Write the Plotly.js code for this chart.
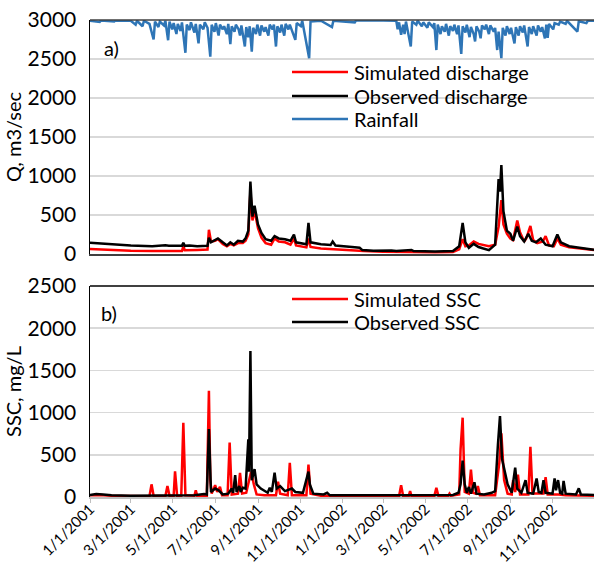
<!DOCTYPE html>
<html>
<head>
<meta charset="utf-8">
<script src="https://cdn.plot.ly/plotly-3.0.1.min.js"></script>
<style>html,body{margin:0;padding:0;background:#fff;}#chart{width:595px;height:571px;}</style>
</head>
<body>
<div id="chart"></div>
<script>
// ---- Discharge (m3/sec) ----
const simQDates = ['2001-01-01','2001-02-01','2001-03-01','2001-04-01','2001-05-10','2001-05-14','2001-05-16','2001-05-18','2001-06-05','2001-06-20','2001-06-22','2001-06-25','2001-07-01','2001-07-05','2001-07-12','2001-07-18','2001-07-23','2001-07-28','2001-08-03','2001-08-10','2001-08-14','2001-08-18','2001-08-21','2001-08-24','2001-08-27','2001-09-01','2001-09-06','2001-09-12','2001-09-20','2001-09-25','2001-10-01','2001-10-10','2001-10-18','2001-10-23','2001-10-26','2001-11-05','2001-11-10','2001-11-13','2001-11-16','2001-12-01','2001-12-18','2002-01-01','2002-02-01','2002-03-01','2002-04-01','2002-05-15','2002-06-10','2002-06-19','2002-06-24','2002-06-28','2002-07-03','2002-07-10','2002-07-17','2002-07-24','2002-08-01','2002-08-10','2002-08-15','2002-08-19','2002-08-22','2002-08-27','2002-09-01','2002-09-05','2002-09-11','2002-09-15','2002-09-21','2002-09-24','2002-09-30','2002-10-04','2002-10-10','2002-10-18','2002-10-22','2002-10-27','2002-11-03','2002-11-08','2002-11-13','2002-11-25','2002-12-10','2002-12-31'];
const simQ = [65,50,42,38,33,38,100,48,52,58,310,160,170,190,130,100,130,110,140,140,170,250,800,430,560,330,210,140,120,200,160,150,120,200,110,90,85,200,90,72,62,52,38,28,24,22,25,60,190,100,110,160,130,120,100,120,350,690,380,260,200,180,430,280,160,200,360,180,140,160,230,110,100,200,120,85,70,50];

const obsQDates = ['2001-01-01','2001-02-01','2001-03-01','2001-04-01','2001-04-10','2001-04-20','2001-04-25','2001-05-10','2001-05-14','2001-05-16','2001-05-18','2001-05-25','2001-06-05','2001-06-20','2001-06-22','2001-06-25','2001-07-01','2001-07-05','2001-07-12','2001-07-18','2001-07-23','2001-07-28','2001-08-03','2001-08-10','2001-08-14','2001-08-18','2001-08-21','2001-08-24','2001-08-27','2001-09-01','2001-09-06','2001-09-12','2001-09-20','2001-09-25','2001-10-01','2001-10-10','2001-10-18','2001-10-23','2001-10-26','2001-11-05','2001-11-10','2001-11-13','2001-11-16','2001-12-01','2001-12-15','2001-12-18','2001-12-22','2002-01-15','2002-01-26','2002-01-30','2002-02-15','2002-03-13','2002-03-20','2002-04-11','2002-04-14','2002-05-15','2002-06-10','2002-06-19','2002-06-24','2002-06-28','2002-07-03','2002-07-10','2002-07-17','2002-07-24','2002-08-01','2002-08-10','2002-08-15','2002-08-17','2002-08-19','2002-08-22','2002-08-27','2002-09-01','2002-09-05','2002-09-11','2002-09-15','2002-09-21','2002-09-27','2002-10-02','2002-10-08','2002-10-15','2002-10-22','2002-11-01','2002-11-08','2002-11-13','2002-11-25','2002-12-10','2002-12-31'];
const obsQ = [145,125,110,100,105,112,105,100,105,145,105,110,100,105,210,150,180,200,150,110,150,120,170,160,200,300,930,480,620,380,270,190,170,230,200,190,170,250,150,130,125,400,150,125,115,160,110,90,80,50,42,45,38,52,38,32,38,100,400,150,80,130,90,70,50,120,960,800,1140,550,300,260,170,350,230,160,260,170,150,200,120,100,250,150,100,80,55];

// ---- Rainfall (plotted downward from the top of panel a) ----
const rainDates = ['2001-01-01','2001-01-15','2001-01-17','2001-02-05','2001-02-07','2001-03-01','2001-03-08','2001-03-10','2001-03-18','2001-03-20','2001-03-28','2001-04-03','2001-04-05','2001-04-10','2001-04-12','2001-04-18','2001-04-20','2001-04-24','2001-04-26','2001-04-30','2001-05-02','2001-05-06','2001-05-08','2001-05-12','2001-05-14','2001-05-19','2001-05-21','2001-05-25','2001-05-27','2001-06-01','2001-06-03','2001-06-07','2001-06-09','2001-06-14','2001-06-16','2001-06-20','2001-06-24','2001-06-26','2001-06-30','2001-07-02','2001-07-06','2001-07-08','2001-07-12','2001-07-14','2001-07-18','2001-07-20','2001-07-23','2001-07-25','2001-07-29','2001-07-31','2001-08-04','2001-08-06','2001-08-08','2001-08-13','2001-08-15','2001-08-18','2001-08-20','2001-08-23','2001-08-25','2001-08-29','2001-08-31','2001-09-04','2001-09-06','2001-09-10','2001-09-12','2001-09-16','2001-09-18','2001-09-22','2001-09-24','2001-09-27','2001-09-29','2001-10-03','2001-10-05','2001-10-09','2001-10-11','2001-10-15','2001-10-17','2001-10-21','2001-10-25','2001-10-27','2001-11-02','2001-11-04','2001-11-14','2001-11-16','2001-12-01','2001-12-17','2001-12-19','2002-01-19','2002-01-21','2002-03-01','2002-03-20','2002-03-22','2002-03-24','2002-03-27','2002-03-30','2002-04-01','2002-04-03','2002-04-10','2002-04-12','2002-04-18','2002-04-20','2002-04-26','2002-04-28','2002-05-04','2002-05-06','2002-05-12','2002-05-14','2002-05-17','2002-05-19','2002-05-23','2002-05-25','2002-05-29','2002-05-31','2002-06-04','2002-06-06','2002-06-10','2002-06-12','2002-06-16','2002-06-18','2002-06-22','2002-06-24','2002-06-28','2002-06-30','2002-07-04','2002-07-06','2002-07-10','2002-07-12','2002-07-14','2002-07-18','2002-07-20','2002-07-22','2002-07-26','2002-07-28','2002-08-01','2002-08-03','2002-08-08','2002-08-10','2002-08-13','2002-08-15','2002-08-19','2002-08-21','2002-08-25','2002-08-27','2002-08-31','2002-09-02','2002-09-07','2002-09-09','2002-09-13','2002-09-15','2002-09-19','2002-09-21','2002-09-26','2002-09-28','2002-10-02','2002-10-04','2002-10-09','2002-10-11','2002-10-15','2002-10-17','2002-10-21','2002-10-23','2002-10-25','2002-10-27','2002-11-02','2002-11-04','2002-11-10','2002-11-12','2002-11-20','2002-11-22','2002-12-07','2002-12-09','2002-12-20','2002-12-22','2002-12-31'];
const rain = [10,25,5,20,5,10,60,10,80,10,50,250,20,90,20,70,10,260,20,120,40,180,50,140,30,420,60,130,30,160,50,300,60,120,30,100,470,60,150,40,200,60,120,80,180,50,310,80,150,60,120,200,70,340,90,220,80,405,100,180,60,200,70,150,90,200,60,120,60,340,80,160,60,200,50,120,60,150,255,40,80,10,490,20,10,90,10,30,5,5,10,120,30,190,60,180,20,340,20,60,10,80,30,100,30,90,40,385,60,180,80,150,50,200,80,140,60,180,70,435,80,160,60,220,90,180,275,80,150,235,70,120,60,180,70,150,100,385,150,490,100,200,80,180,100,300,90,200,80,160,70,340,90,180,80,200,70,150,90,235,60,230,50,120,40,60,20,50,10,150,15,40,10,10];

// ---- Suspended sediment concentration (mg/L) ----
const simSSCDates = ['2001-01-01','2001-01-15','2001-02-01','2001-03-01','2001-03-28','2001-03-31','2001-04-03','2001-04-20','2001-04-23','2001-04-26','2001-05-02','2001-05-04','2001-05-07','2001-05-13','2001-05-16','2001-05-19','2001-06-01','2001-06-03','2001-06-05','2001-06-19','2001-06-22','2001-06-24','2001-06-26','2001-07-01','2001-07-04','2001-07-08','2001-07-11','2001-07-19','2001-07-22','2001-07-25','2001-08-03','2001-08-06','2001-08-09','2001-08-15','2001-08-22','2001-08-26','2001-08-30','2001-09-10','2001-09-27','2001-09-30','2001-10-03','2001-10-14','2001-10-17','2001-10-20','2001-11-10','2001-11-13','2001-11-16','2001-12-01','2001-12-20','2002-01-15','2002-03-24','2002-03-27','2002-03-30','2002-04-07','2002-04-09','2002-04-11','2002-05-14','2002-05-17','2002-05-20','2002-06-03','2002-06-05','2002-06-07','2002-06-19','2002-06-21','2002-06-24','2002-06-27','2002-07-03','2002-07-06','2002-07-09','2002-07-13','2002-07-16','2002-07-19','2002-08-10','2002-08-16','2002-08-19','2002-08-23','2002-08-28','2002-09-03','2002-09-05','2002-09-08','2002-09-12','2002-09-15','2002-09-27','2002-09-30','2002-10-03','2002-10-19','2002-10-22','2002-10-25','2002-11-10','2002-11-20','2002-12-31'];
const simSSC = [20,25,15,10,10,150,15,10,130,15,15,305,15,15,880,20,15,80,15,15,1260,200,40,140,60,120,20,20,645,30,40,285,40,50,300,150,30,20,20,180,40,20,405,20,20,385,40,15,10,10,10,140,10,10,70,10,10,110,10,10,40,15,30,565,940,60,40,325,50,40,130,20,20,400,755,200,40,30,200,60,265,30,30,595,40,40,235,30,30,20,15];

const obsSSCDates = ['2001-01-01','2001-01-10','2001-01-20','2001-02-01','2001-03-01','2001-05-01','2001-06-01','2001-06-15','2001-06-19','2001-06-22','2001-06-25','2001-07-01','2001-07-06','2001-07-12','2001-07-20','2001-07-25','2001-07-27','2001-07-30','2001-08-01','2001-08-05','2001-08-07','2001-08-10','2001-08-14','2001-08-18','2001-08-19','2001-08-21','2001-08-23','2001-08-27','2001-08-30','2001-09-05','2001-09-15','2001-09-18','2001-09-21','2001-09-25','2001-09-28','2001-10-03','2001-10-10','2001-10-20','2001-10-25','2001-11-05','2001-11-13','2001-11-15','2001-11-20','2001-12-05','2001-12-10','2001-12-14','2002-01-01','2002-03-01','2002-05-01','2002-06-10','2002-06-18','2002-06-21','2002-06-24','2002-06-27','2002-06-30','2002-07-03','2002-07-06','2002-07-11','2002-07-14','2002-07-25','2002-08-05','2002-08-10','2002-08-14','2002-08-17','2002-08-20','2002-08-24','2002-08-28','2002-09-03','2002-09-08','2002-09-11','2002-09-17','2002-09-23','2002-09-26','2002-10-04','2002-10-09','2002-10-12','2002-10-16','2002-10-19','2002-10-22','2002-11-01','2002-11-04','2002-11-06','2002-11-09','2002-11-12','2002-11-15','2002-11-17','2002-11-20','2002-12-05','2002-12-09','2002-12-12','2002-12-31'];
const obsSSC = [25,35,30,20,15,15,20,35,30,805,60,100,80,30,40,100,50,260,60,130,60,110,100,683,300,1730,200,330,150,100,50,110,60,288,100,130,70,100,60,50,300,150,40,30,50,20,20,20,20,25,50,150,430,150,50,118,40,174,40,30,50,70,616,960,450,300,150,50,347,100,50,200,50,40,220,60,50,200,50,40,220,80,200,50,40,190,40,30,103,30,25];

const legendNames = ['Simulated discharge','Observed discharge','Rainfall','Simulated SSC','Observed SSC'];
const seriesColors = ['#FF0000','#000000','#2E75B6','#FF0000','#000000'];

const traces = [
  {x: simQDates, y: simQ, name: legendNames[0], type: 'scatter', mode: 'lines', xaxis: 'x2', yaxis: 'y2',
   line: {color: seriesColors[0], width: 2.5}},
  {x: obsQDates, y: obsQ, name: legendNames[1], type: 'scatter', mode: 'lines', xaxis: 'x2', yaxis: 'y2',
   line: {color: seriesColors[1], width: 2.5}},
  {x: rainDates, y: rain, name: legendNames[2], type: 'scatter', mode: 'lines', xaxis: 'x2', yaxis: 'y3',
   line: {color: seriesColors[2], width: 2.5}},
  {x: simSSCDates, y: simSSC, name: legendNames[3], type: 'scatter', mode: 'lines', xaxis: 'x', yaxis: 'y',
   line: {color: seriesColors[3], width: 2.5}},
  {x: obsSSCDates, y: obsSSC, name: legendNames[4], type: 'scatter', mode: 'lines', xaxis: 'x', yaxis: 'y',
   line: {color: seriesColors[4], width: 2.5}}
];

const FONT = 'Lato, "Open Sans", sans-serif';
const W = 595, H = 571;
const M = {l: 90, r: 1, t: 20, b: 74};
// pixel helpers for legend placement (paper coordinates)
const px = v => (v - M.l) / (W - M.l - M.r);
const py = v => (H - M.b - v) / (H - M.t - M.b);

const yCommon = {
  dtick: 500, showgrid: true, gridcolor: '#d9d9d9', gridwidth: 1.5, zeroline: false,
  showline: true, linecolor: '#000', linewidth: 1.5, ticks: '',
  tickfont: {size: 21, family: FONT, color: '#000'}, ticklabelstandoff: 8, fixedrange: true
};

// custom legend (line sample + label), panel a rows then panel b rows
const legendRows = [72, 96, 119, 299, 322];
const legendShapes = legendRows.map((yy, i) => ({
  type: 'line', xref: 'paper', yref: 'paper', x0: px(292), x1: px(348), y0: py(yy), y1: py(yy),
  line: {color: seriesColors[i], width: 2.5}
}));
const legendTexts = legendRows.map((yy, i) => ({
  text: legendNames[i], xref: 'paper', yref: 'paper', x: px(352), y: py(yy), xanchor: 'left', yanchor: 'middle',
  showarrow: false, font: {size: 20, family: FONT, color: '#000'}
}));

const layout = {
  width: W, height: H,
  margin: M,
  paper_bgcolor: '#fff', plot_bgcolor: '#fff',
  font: {family: FONT, color: '#000'},
  showlegend: false,
  xaxis: {
    domain: [0, 1], anchor: 'y', type: 'date',
    range: ['2001-01-01', '2002-12-31'], tick0: '2001-01-01', dtick: 'M2',
    tickformat: '%-m/%-d/%Y', tickangle: -45, ticks: 'outside', ticklen: 4, tickcolor: '#bfbfbf',
    ticklabelstandoff: -8,
    showline: true, linecolor: '#bfbfbf', linewidth: 1.5, showgrid: false, zeroline: false,
    tickfont: {size: 15, family: FONT, color: '#000'}
  },
  xaxis2: {
    domain: [0, 1], anchor: 'y2', type: 'date', matches: 'x',
    range: ['2001-01-01', '2002-12-31'], showticklabels: false, ticks: '',
    showline: true, linecolor: '#404040', linewidth: 1.5, showgrid: false, zeroline: false
  },
  yaxis: Object.assign({}, yCommon, {
    domain: [0, 0.4423], anchor: 'x', range: [0, 2500],
    title: {text: 'SSC, mg/L', font: {size: 20, family: FONT, color: '#000'}, standoff: 0}
  }),
  yaxis2: Object.assign({}, yCommon, {
    domain: [0.5094, 1], anchor: 'x2', range: [0, 3000],
    title: {text: 'Q, m3/sec', font: {size: 20, family: FONT, color: '#000'}, standoff: 0}
  }),
  yaxis3: {
    overlaying: 'y2', anchor: 'x2', side: 'right', range: [3000, 0],
    showgrid: false, showticklabels: false, showline: false, zeroline: false, ticks: '', fixedrange: true
  },
  shapes: [
    {type: 'line', xref: 'x2 domain', yref: 'y2 domain', x0: 0, x1: 1, y0: 1, y1: 1, line: {color: '#404040', width: 1.5}},
    {type: 'line', xref: 'x domain', yref: 'y domain', x0: 0, x1: 1, y0: 1, y1: 1, line: {color: '#000', width: 1.5}}
  ].concat(legendShapes),
  annotations: [
    {text: 'a)', xref: 'x2 domain', yref: 'y2 domain', x: 0.024, y: 0.88, xanchor: 'left', yanchor: 'middle', showarrow: false,
     font: {size: 20, family: FONT, color: '#000'}},
    {text: 'b)', xref: 'x domain', yref: 'y domain', x: 0.018, y: 0.87, xanchor: 'left', yanchor: 'middle', showarrow: false,
     font: {size: 20, family: FONT, color: '#000'}}
  ].concat(legendTexts)
};

Plotly.newPlot('chart', traces, layout, {displayModeBar: false, staticPlot: true});
</script>
</body>
</html>
